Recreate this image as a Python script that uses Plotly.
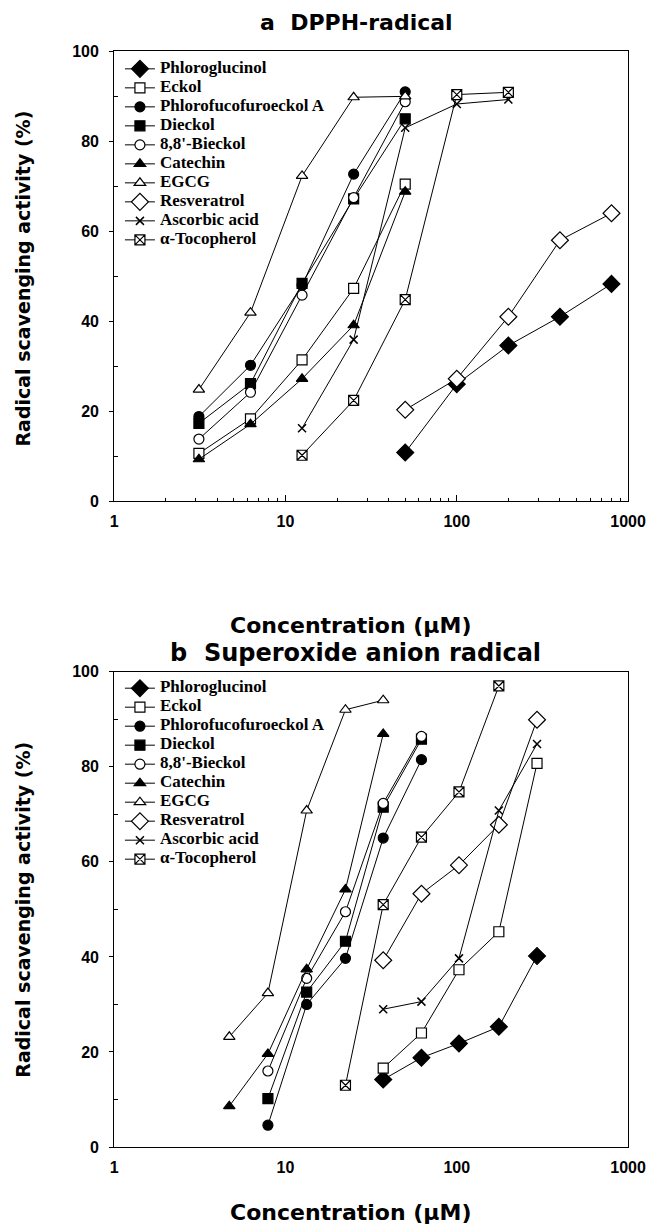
import plotly.graph_objects as go

# ---------------- DATA ----------------
names = ["Phloroglucinol", "Eckol", "Phlorofucofuroeckol A", "Dieckol", "8,8'-Bieckol",
         "Catechin", "EGCG", "Resveratrol", "Ascorbic acid", "α-Tocopherol"]

# panel a: DPPH radical
a_conc_low = [3.125, 6.25, 12.5, 25, 50]
a_conc_mid = [12.5, 25, 50, 100, 200]
a_conc_high = [50, 100, 200, 400, 800]

a_phloroglucinol = [10.8, 26.0, 34.6, 41.0, 48.3]
a_eckol = [10.6, 18.3, 31.4, 47.3, 70.5]
a_pffa = [18.8, 30.2, 48.0, 72.7, 91.0]
a_dieckol = [17.3, 26.1, 48.4, 67.2, 85.0]
a_bieckol = [13.8, 24.2, 45.8, 67.5, 88.8]
a_catechin = [9.3, 17.1, 27.2, 39.1, 68.8]
a_egcg = [24.8, 41.9, 72.3, 89.8, 90.0]
a_resveratrol = [20.3, 27.2, 41.0, 58.0, 64.0]
a_ascorbic = [16.2, 35.9, 83.0, 88.3, 89.3]
a_tocopherol = [10.2, 22.4, 44.8, 90.4, 90.9]

# panel b: superoxide anion radical
b_conc_1 = [4.7, 7.9, 13.3, 22.4, 37.2]
b_conc_2 = [7.9, 13.3, 22.4, 37.2, 62.2]
b_conc_3 = [22.4, 37.2, 62.2, 103, 176]
b_conc_4 = [37.2, 62.2, 103, 176, 294]

b_phloroglucinol = [14.2, 18.8, 21.8, 25.3, 40.2]
b_eckol = [16.6, 24.0, 37.3, 45.3, 80.7]
b_pffa = [4.6, 30.0, 39.7, 65.0, 81.5]
b_dieckol = [10.2, 32.6, 43.3, 71.5, 85.8]
b_bieckol = [16.0, 35.5, 49.5, 72.3, 86.4]
b_catechin = [8.6, 19.6, 37.4, 54.2, 86.9]
b_egcg = [23.2, 32.4, 70.8, 92.0, 94.0]
b_resveratrol = [39.3, 53.3, 59.3, 67.8, 89.9]
b_ascorbic = [29.0, 30.6, 39.7, 70.8, 84.8]
b_tocopherol = [13.0, 51.0, 65.2, 74.7, 97.0]

x_tick_vals = [1, 10, 100, 1000]
x_tick_text = ["1", "10", "100", "1000"]
y_tick_vals = [0, 20, 40, 60, 80, 100]

# ---------------- STYLE ----------------
styles = [
    dict(symbol="diamond", size=13, color="black"),
    dict(symbol="square", size=10, color="white"),
    dict(symbol="circle", size=10, color="black"),
    dict(symbol="square", size=10, color="black"),
    dict(symbol="circle", size=10, color="white"),
    dict(symbol="triangle-up", size=10, color="black"),
    dict(symbol="triangle-up", size=10, color="white"),
    dict(symbol="diamond", size=13, color="white"),
    dict(symbol="x-thin-open", size=8, color="black"),
    dict(symbol="square-x", size=10, color="white"),
]

a_series = [
    (a_conc_high, a_phloroglucinol), (a_conc_low, a_eckol), (a_conc_low, a_pffa),
    (a_conc_low, a_dieckol), (a_conc_low, a_bieckol), (a_conc_low, a_catechin),
    (a_conc_low, a_egcg), (a_conc_high, a_resveratrol), (a_conc_mid, a_ascorbic),
    (a_conc_mid, a_tocopherol),
]
b_series = [
    (b_conc_4, b_phloroglucinol), (b_conc_4, b_eckol), (b_conc_2, b_pffa),
    (b_conc_2, b_dieckol), (b_conc_2, b_bieckol), (b_conc_1, b_catechin),
    (b_conc_1, b_egcg), (b_conc_4, b_resveratrol), (b_conc_4, b_ascorbic),
    (b_conc_3, b_tocopherol),
]

W, H = 649, 1232
def px(x): return x / W
def py(y): return 1 - y / H

fig = go.Figure()

def add_panel(series, xa, ya, legend):
    for name, (xs, ys), st in zip(names, series, styles):
        lw = 1.5 if st["symbol"].startswith("x") else 1.2
        fig.add_trace(go.Scatter(
            x=xs, y=ys, mode="lines+markers", xaxis=xa, yaxis=ya, legend=legend,
            name='<span style="font-size:17px">' + name + '</span>',
            line=dict(color="black", width=1),
            marker=dict(symbol=st["symbol"], size=st["size"], color=st["color"],
                        line=dict(color="black", width=lw)),
        ))

add_panel(a_series, "x", "y", "legend")
add_panel(b_series, "x2", "y2", "legend2")

xdom = [px(114), px(646)]
ydom_a = [py(500), py(44)]
ydom_b = [py(1155), py(673)]

minor_log3 = [m * 10 ** k for k in range(0, 3) for m in range(2, 10)]
minor_log4 = [m * 10 ** k for k in range(0, 4) for m in range(2, 10)]

tickfont = dict(family="Liberation Sans, Arial", size=16, color="black", weight="bold")
common_x = dict(type="log", showgrid=False, zeroline=False, showline=True, linecolor="black",
                linewidth=1, mirror=True, domain=xdom, range=[0, 3],
                tickmode="array", tickvals=x_tick_vals, ticktext=x_tick_text,
                tickfont=tickfont, ticklabelstandoff=6, ticklabeloverflow="allow")
common_y = dict(showgrid=False, zeroline=False, showline=True, linecolor="black",
                linewidth=1, mirror=True, range=[0, 100], tickmode="array",
                tickvals=y_tick_vals, ticks="outside", ticklen=4, tickcolor="black",
                tickfont=tickfont, ticklabelstandoff=7,
                minor=dict(tickvals=[10, 30, 50, 70, 90], ticks="inside", ticklen=4,
                           tickcolor="black"))

legend_font = dict(family="Liberation Serif, Times New Roman", size=11, color="black",
                   weight="bold")
fig.update_layout(
    width=W, height=H, margin=dict(l=0, r=0, t=0, b=0),
    paper_bgcolor="white", plot_bgcolor="white", showlegend=True,
    xaxis=dict(**common_x, anchor="y", ticks="inside", ticklen=6, tickcolor="black",
               minor=dict(tickvals=minor_log3, ticks="inside", ticklen=3, tickcolor="black")),
    yaxis=dict(**common_y, domain=ydom_a, anchor="x"),
    xaxis2=dict(**common_x, anchor="y2", ticks=""),
    xaxis3=dict(type="log", range=[0, 4], overlaying="x2", anchor="y2", side="bottom",
                domain=xdom, showgrid=False, zeroline=False, showline=False,
                showticklabels=False, tickmode="array", tickvals=[10, 100, 1000],
                ticks="inside", ticklen=6, tickcolor="black",
                minor=dict(tickvals=minor_log4, ticks="inside", ticklen=3, tickcolor="black")),
    yaxis2=dict(**common_y, domain=ydom_b, anchor="x2"),
    legend=dict(x=px(120), y=py(47), xanchor="left", yanchor="top",
                bgcolor="rgba(0,0,0,0)", borderwidth=0, tracegroupgap=0, font=legend_font),
    legend2=dict(x=px(120), y=py(675), xanchor="left", yanchor="top",
                 bgcolor="rgba(0,0,0,0)", borderwidth=0, tracegroupgap=0, font=legend_font),
)

ann = [
    ("a  DPPH-radical", 365, 15, 22),
    ("b  Superoxide anion radical", 364, 654, 24),
    ("Concentration (µM)", 359, 626, 22),
    ("Concentration (µM)", 359, 1221, 22),
]
for text, x, y, s in ann:
    fig.add_annotation(text=text, x=px(x), y=py(y), xref="paper", yref="paper",
                       xanchor="center", yanchor="middle", showarrow=False,
                       font=dict(family="DejaVu Sans", size=s, color="black", weight="bold"))
for y in (274, 914):
    fig.add_annotation(text="Radical scavenging activity (%)", x=px(20), y=py(y),
                       xref="paper", yref="paper", xanchor="center", yanchor="middle",
                       textangle=-90, showarrow=False,
                       font=dict(family="DejaVu Sans", size=19, color="black", weight="bold"))

fig.write_html("out.html", config={"displayModeBar": False},
               post_script="document.body.style.margin='0';document.body.style.overflow='hidden';")
